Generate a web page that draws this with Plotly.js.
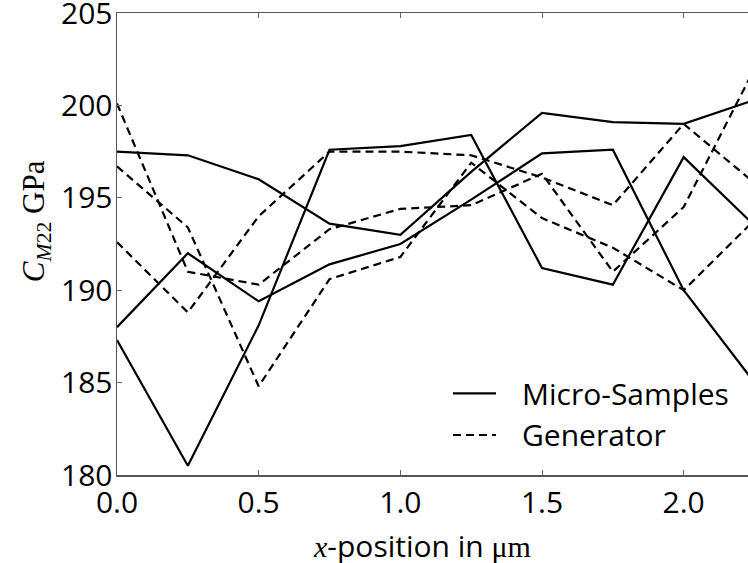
<!DOCTYPE html>
<html>
<head>
<meta charset="utf-8">
<script src="https://cdn.plot.ly/plotly-3.0.1.min.js"></script>
<style>
  html, body { margin: 0; padding: 0; background: #fff; }
  #chart { width: 748px; height: 563px; }
</style>
</head>
<body>
<div id="chart"></div>
<script>
// Positions along the sample (µm)
const xPos = [0.0, 0.25, 0.5, 0.75, 1.0, 1.25, 1.5, 1.75, 2.0, 2.25];

// Measured stiffness C_M22 (GPa) for three micro-samples
const microA = [197.5, 197.3, 196.0, 193.6, 193.0, 196.4, 199.6, 199.1, 199.0, 200.3];
const microB = [188.0, 192.0, 189.4, 191.4, 192.5, 194.9, 197.4, 197.6, 190.0, 185.0];
const microC = [187.3, 180.5, 188.1, 197.6, 197.8, 198.4, 191.2, 190.3, 197.2, 193.5];

// Generated stiffness C_M22 (GPa) for three realisations
const genA = [200.1, 191.0, 190.3, 193.3, 194.4, 194.6, 196.3, 191.0, 194.5, 202.0];
const genB = [196.7, 193.4, 184.8, 190.6, 191.8, 196.9, 193.9, 192.3, 190.0, 193.8];
const genC = [192.6, 188.8, 194.0, 197.5, 197.5, 197.3, 196.1, 194.6, 199.0, 195.8];

const seriesNames = ['Micro-Samples', 'Generator'];
const xTickVals = [0, 0.5, 1.0, 1.5, 2.0];
const xTickText = ['0.0', '0.5', '1.0', '1.5', '2.0'];
const yTickVals = [180, 185, 190, 195, 200, 205];

const micro = [microA, microB, microC];
const gen = [genA, genB, genC];

const solidLine = { color: '#000', width: 2.2 };
const dashedLine = { color: '#000', width: 2.2, dash: '8px,5px' };

const traces = [];
micro.forEach((ys) => {
  traces.push({ x: xPos, y: ys, type: 'scatter', mode: 'lines',
    name: seriesNames[0], showlegend: false, line: solidLine });
});
gen.forEach((ys) => {
  traces.push({ x: xPos, y: ys, type: 'scatter', mode: 'lines',
    name: seriesNames[1], showlegend: false, line: dashedLine });
});

const sans = '"Open Sans", sans-serif';
const serif = '"Liberation Serif", serif';
const tickFont = { family: sans, size: 30, color: '#000' };

// Legend key: sample line plus label for each series
const keyX0 = 0.5325, keyX1 = 0.6006, keyTextX = 0.638;
const keyRows = [
  { y: 0.1768, line: solidLine, label: seriesNames[0] },
  { y: 0.0866, line: dashedLine, label: seriesNames[1] }
];
const shapes = keyRows.map(r => ({
  type: 'line', xref: 'paper', yref: 'paper',
  x0: keyX0, x1: keyX1, y0: r.y, y1: r.y, line: r.line
}));
const keyLabels = keyRows.map(r => ({
  xref: 'paper', yref: 'paper', x: keyTextX, y: r.y,
  xanchor: 'left', yanchor: 'middle', showarrow: false,
  text: r.label, font: { family: sans, size: 30, color: '#000' }
}));

const layout = {
  width: 748, height: 563,
  margin: { l: 117, r: 0, t: 13, b: 88 },
  paper_bgcolor: '#fff', plot_bgcolor: '#fff',
  showlegend: false,
  xaxis: {
    range: [0, 2.227], tickvals: xTickVals, ticktext: xTickText,
    ticks: 'inside', ticklen: 5, tickcolor: '#666', tickwidth: 1,
    showline: true, linecolor: '#555', linewidth: 1.5, mirror: 'ticks',
    showgrid: false, zeroline: false, tickfont: tickFont,
    ticklabeloverflow: 'allow'
  },
  yaxis: {
    range: [180, 205], tickvals: yTickVals,
    ticks: 'inside', ticklen: 5, tickcolor: '#666', tickwidth: 1,
    showline: true, linecolor: '#555', linewidth: 1.5,
    showgrid: false, zeroline: false, tickfont: tickFont,
    ticklabeloverflow: 'allow', ticklabelstandoff: -3
  },
  shapes: shapes,
  annotations: keyLabels.concat([
    {
      xref: 'paper', yref: 'paper', x: 0.484, y: -0.152,
      xanchor: 'center', yanchor: 'middle', showarrow: false,
      text: '<i>x</i><span style="font-family:\'Open Sans\'">-position in </span>μm',
      font: { family: serif, size: 30, color: '#000' }
    },
    {
      xref: 'paper', yref: 'paper', x: -0.128, y: 0.55,
      xanchor: 'center', yanchor: 'middle', showarrow: false, textangle: -90,
      text: '<i>C</i><sub><i>M</i>22</sub> GPa',
      font: { family: serif, size: 31, color: '#000' }
    }
  ])
};

Plotly.newPlot('chart', traces, layout, { displayModeBar: false, staticPlot: true });
</script>
</body>
</html>
